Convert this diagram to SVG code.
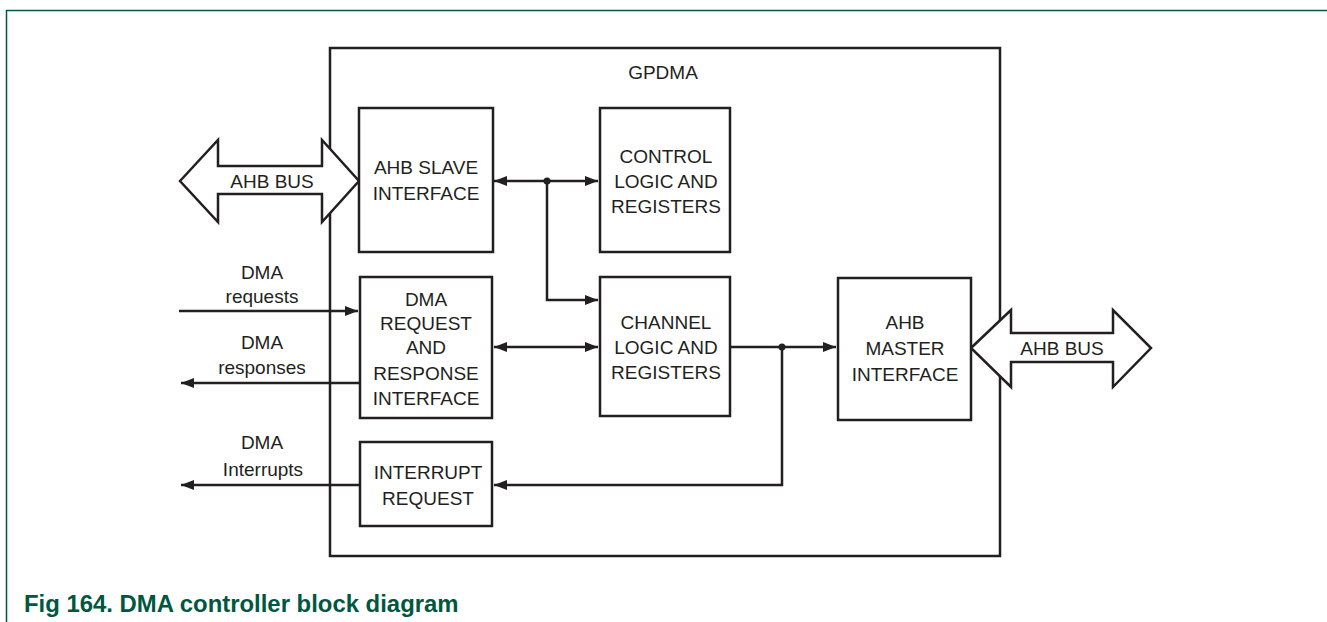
<svg xmlns="http://www.w3.org/2000/svg" width="1327" height="622" viewBox="0 0 1327 622">
<style>
.box{fill:#fff;stroke:#231f20;stroke-width:2.5}
.ln{fill:none;stroke:#231f20;stroke-width:2.5}
.bus{fill:#fff;stroke:#231f20;stroke-width:2.5;stroke-linejoin:miter}
text{font-family:"Liberation Sans",Arial,sans-serif;font-size:19px;fill:#231f20;text-anchor:middle}
.cap{font-size:23.9px;font-weight:bold;fill:#00573f;text-anchor:start}
</style>
<defs>
<marker id="ah" markerWidth="14" markerHeight="10" refX="13" refY="5" orient="auto-start-reverse" markerUnits="userSpaceOnUse">
<path d="M0,0 L13,5 L0,10 Z" fill="#231f20"/>
</marker>
</defs>
<rect width="1327" height="622" fill="#fff"/>
<g id="frame">
<path d="M6.5,622 L6.5,10.5 L1327,10.5" fill="none" stroke="#00573f" stroke-width="1.5"/>
</g>
<g id="gpdma">
<rect class="box" x="330" y="48" width="670" height="508"/>
<text x="663" y="79">GPDMA</text>
</g>
<g id="connectors">
<path class="ln" d="M494,181 L598,181" marker-start="url(#ah)" marker-end="url(#ah)"/>
<path class="ln" d="M547,181 L547,300 L598,300" marker-end="url(#ah)"/>
<circle cx="547" cy="181" r="3.5" fill="#231f20"/>
<path class="ln" d="M494,347 L598,347" marker-start="url(#ah)" marker-end="url(#ah)"/>
<path class="ln" d="M731,347 L836,347" marker-end="url(#ah)"/>
<path class="ln" d="M782,347 L782,485 L494,485" marker-end="url(#ah)"/>
<circle cx="782" cy="347" r="3.5" fill="#231f20"/>
<path class="ln" d="M179,311 L358,311" marker-end="url(#ah)"/>
<path class="ln" d="M360,383 L181,383" marker-end="url(#ah)"/>
<path class="ln" d="M360,485 L181,485" marker-end="url(#ah)"/>
</g>
<g id="ahb-bus-left">
<path class="bus" d="M180,181 L218,140 L218,166 L322,166 L322,140 L359,181 L322,222 L322,194 L218,194 L218,222 Z"/>
<text x="272" y="188">AHB BUS</text>
</g>
<g id="ahb-bus-right">
<path class="bus" d="M971,348 L1011,310 L1011,333 L1113,333 L1113,310 L1151,348 L1113,387 L1113,362 L1011,362 L1011,387 Z"/>
<text x="1062" y="355">AHB BUS</text>
</g>
<g id="ahb-slave">
<rect class="box" x="359" y="108" width="134" height="144"/>
<text x="426" y="174">AHB SLAVE</text>
<text x="426" y="200">INTERFACE</text>
</g>
<g id="control-logic">
<rect class="box" x="600" y="108" width="130" height="144"/>
<text x="666" y="163">CONTROL</text>
<text x="666" y="188">LOGIC AND</text>
<text x="666" y="213">REGISTERS</text>
</g>
<g id="dma-request">
<rect class="box" x="360" y="277" width="132" height="141"/>
<text x="426" y="306">DMA</text>
<text x="426" y="330">REQUEST</text>
<text x="426" y="354">AND</text>
<text x="426" y="380">RESPONSE</text>
<text x="426" y="405">INTERFACE</text>
</g>
<g id="channel-logic">
<rect class="box" x="600" y="277" width="130" height="139"/>
<text x="666" y="329">CHANNEL</text>
<text x="666" y="354">LOGIC AND</text>
<text x="666" y="379">REGISTERS</text>
</g>
<g id="interrupt-request">
<rect class="box" x="360" y="442" width="132" height="84"/>
<text x="428" y="479">INTERRUPT</text>
<text x="428" y="505">REQUEST</text>
</g>
<g id="ahb-master">
<rect class="box" x="838" y="278" width="133" height="142"/>
<text x="905" y="329">AHB</text>
<text x="905" y="355">MASTER</text>
<text x="905" y="381">INTERFACE</text>
</g>
<g id="labels">
<text x="262" y="279">DMA</text>
<text x="262" y="303">requests</text>
<text x="262" y="349">DMA</text>
<text x="262" y="374">responses</text>
<text x="262" y="449">DMA</text>
<text x="263" y="476">Interrupts</text>
</g>
<g id="caption">
<text class="cap" x="24" y="612">Fig 164. DMA controller block diagram</text>
</g>
</svg>
